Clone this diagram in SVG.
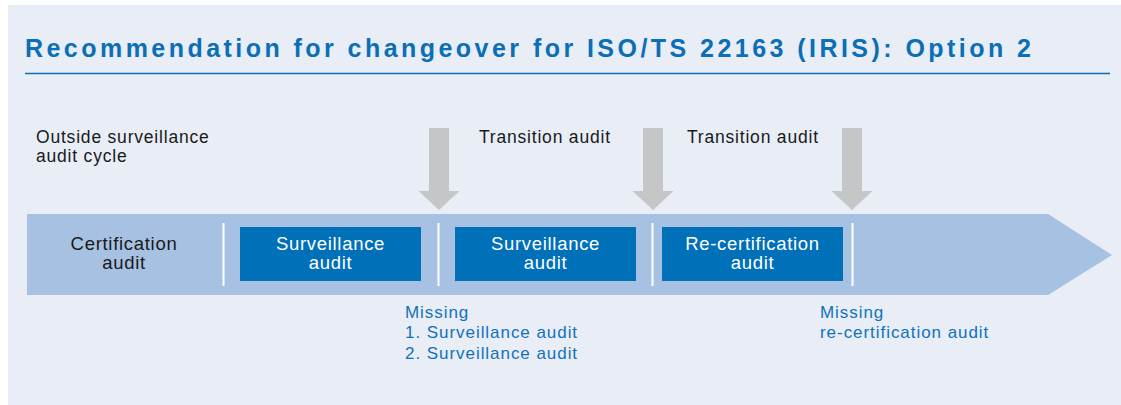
<svg xmlns="http://www.w3.org/2000/svg" width="1121" height="405" viewBox="0 0 1121 405">
  <style>
    .title { font-family: "Liberation Sans", Arial, sans-serif; font-weight: bold; font-size: 25px; fill: #0a6fb7; }
    .lbl { font-family: "Liberation Sans", Arial, sans-serif; font-size: 17.5px; fill: #1a1a1a; letter-spacing: 0.8px; }
    .box { fill: #0070b9; }
    .boxtxt { font-family: "Liberation Sans", Arial, sans-serif; font-size: 18.5px; fill: #ffffff; text-anchor: middle; letter-spacing: 0.7px; }
    .dark { font-family: "Liberation Sans", Arial, sans-serif; font-size: 18.5px; fill: #1a1a1a; text-anchor: middle; letter-spacing: 0.7px; }
    .miss { font-family: "Liberation Sans", Arial, sans-serif; font-size: 17px; fill: #1172ba; letter-spacing: 0.95px; }
    .div { stroke: #ffffff; stroke-width: 2; }
    .garrow { fill: #c5c6c8; }
  </style>
  <rect x="8" y="5" width="1113" height="400" fill="#e8edf6"/>
  <g id="title">
    <text class="title" x="25" y="57" textLength="1006" lengthAdjust="spacing">Recommendation for changeover for ISO/TS 22163 (IRIS): Option 2</text>
    <line x1="25" y1="73.5" x2="1110" y2="73.5" stroke="#0a6fb7" stroke-width="1.5"/>
  </g>
  <g id="timeline">
    <polygon points="27,214 1048,214 1112,255 1048,295 27,295" fill="#a6c1e1"/>
    <line class="div" x1="223.5" y1="223" x2="223.5" y2="286"/>
    <line class="div" x1="438.5" y1="223" x2="438.5" y2="286"/>
    <line class="div" x1="652.5" y1="223" x2="652.5" y2="286"/>
    <line class="div" x1="852.5" y1="223" x2="852.5" y2="286"/>
  </g>
  <g id="certification-audit">
    <text class="dark" x="124" y="250">Certification</text>
    <text class="dark" x="124" y="269">audit</text>
  </g>
  <g id="surveillance-audit-1">
    <rect class="box" x="240" y="227" width="181" height="54"/>
    <text class="boxtxt" x="330.5" y="250">Surveillance</text>
    <text class="boxtxt" x="330.5" y="269">audit</text>
  </g>
  <g id="surveillance-audit-2">
    <rect class="box" x="455" y="227" width="181" height="54"/>
    <text class="boxtxt" x="545.5" y="250">Surveillance</text>
    <text class="boxtxt" x="545.5" y="269">audit</text>
  </g>
  <g id="recertification-audit">
    <rect class="box" x="662" y="227" width="181" height="54"/>
    <text class="boxtxt" x="752.5" y="250">Re-certification</text>
    <text class="boxtxt" x="752.5" y="269">audit</text>
  </g>
  <g id="outside-label">
    <text class="lbl" x="36" y="143">Outside surveillance</text>
    <text class="lbl" x="36" y="162">audit cycle</text>
  </g>
  <g id="transition-label-1">
    <text class="lbl" x="479" y="143">Transition audit</text>
  </g>
  <g id="transition-label-2">
    <text class="lbl" x="687" y="143">Transition audit</text>
  </g>
  <g id="missing-1">
    <text class="miss" x="405" y="318">Missing</text>
    <text class="miss" x="405" y="338">1. Surveillance audit</text>
    <text class="miss" x="405" y="359">2. Surveillance audit</text>
  </g>
  <g id="missing-2">
    <text class="miss" x="820" y="318">Missing</text>
    <text class="miss" x="820" y="338">re-certification audit</text>
  </g>
  <g id="connectors">
    <polygon class="garrow" points="429,128 449,128 449,191 459.5,191 439,210 418.5,191 429,191"/>
    <polygon class="garrow" points="643,128 663,128 663,191 673.5,191 653,210 632.5,191 643,191"/>
    <polygon class="garrow" points="842,128 862,128 862,191 872.5,191 852,210 831.5,191 842,191"/>
  </g>
</svg>
